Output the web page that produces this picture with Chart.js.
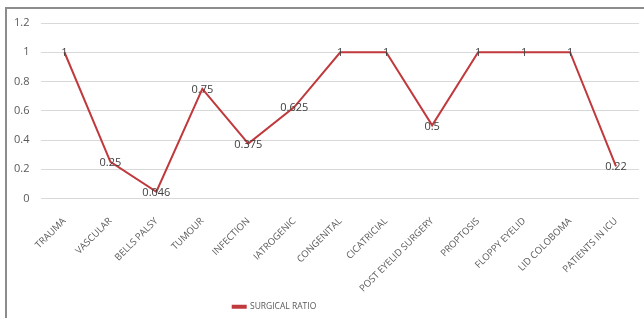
<!DOCTYPE html>
<html>
<head>
<meta charset="utf-8">
<script src="https://cdn.jsdelivr.net/npm/chart.js@4/dist/chart.umd.min.js"></script>
<style>
  html, body { margin: 0; padding: 0; background: #fff; }
  #wrap { position: relative; width: 644px; height: 318px; }
  #frame { position: absolute; left: 5px; top: 7px; right: 0; bottom: 0;
           border-left: 2px solid #8c8c8c; border-top: 2px solid #8c8c8c; }
  canvas { position: absolute; left: 0; top: 0; }
</style>
</head>
<body>
<div id="wrap">
  <div id="frame"></div>
  <canvas id="ratioChart" width="644" height="318"></canvas>
</div>
<script>
// categories and values
const categories = ['TRAUMA', 'VASCULAR', 'BELLS PALSY', 'TUMOUR', 'INFECTION', 'IATROGENIC',
  'CONGENITAL', 'CICATRICIAL', 'POST EYELID SURGERY', 'PROPTOSIS', 'FLOPPY EYELID',
  'LID COLOBOMA', 'PATIENTS IN ICU'];
const surgicalRatio = [1, 0.25, 0.046, 0.75, 0.375, 0.625, 1, 1, 0.5, 1, 1, 1, 0.22];
const seriesName = 'SURGICAL RATIO';

// draw the value text on each point
const valueLabels = {
  id: 'valueLabels',
  afterDatasetsDraw(chart) {
    const ctx = chart.ctx;
    const meta = chart.getDatasetMeta(0);
    ctx.save();
    ctx.font = '11px "Open Sans"';
    ctx.fillStyle = '#404040';
    ctx.textAlign = 'center';
    ctx.textBaseline = 'middle';
    meta.data.forEach((pt, i) => {
      ctx.fillText(String(surgicalRatio[i]), pt.x, pt.y + 1);
    });
    ctx.restore();
  }
};

// the legend sits a bit left of centre and low in the original
const legendShift = {
  id: 'legendShift',
  afterLayout(chart) {
    const lg = chart.legend;
    lg.left -= 46;
    lg.right -= 46;
    lg.top += 5;
    lg.bottom += 5;
  }
};

new Chart(document.getElementById('ratioChart'), {
  type: 'line',
  data: {
    labels: categories,
    datasets: [{
      label: seriesName,
      data: surgicalRatio,
      borderColor: '#c0393d',
      backgroundColor: '#c0393d',
      borderWidth: 2,
      pointRadius: 0,
      tension: 0
    }]
  },
  options: {
    responsive: false,
    animation: false,
    layout: { padding: { left: 2, right: 5, top: 23, bottom: 2 } },
    scales: {
      x: {
        offset: true,
        grid: { display: false },
        border: { display: false },
        afterFit(scale) { scale.height = 95; },
        ticks: {
          color: '#595959',
          font: { family: 'Open Sans', size: 9.5 },
          minRotation: 45,
          maxRotation: 45,
          autoSkip: false,
          padding: 9
        }
      },
      y: {
        min: 0,
        max: 1.2,
        ticks: {
          stepSize: 0.2,
          color: '#595959',
          font: { family: 'Open Sans', size: 11 },
          padding: 12,
          callback: v => String(Math.round(v * 10) / 10)
        },
        grid: { color: '#d9d9d9', drawTicks: false },
        border: { display: false }
      }
    },
    plugins: {
      legend: {
        position: 'bottom',
        labels: {
          color: '#595959',
          font: { family: 'Open Sans', size: 8.5 },
          boxWidth: 13,
          boxHeight: 2,
          padding: 4
        }
      },
      tooltip: { enabled: false }
    }
  },
  plugins: [valueLabels, legendShift]
});
</script>
</body>
</html>
